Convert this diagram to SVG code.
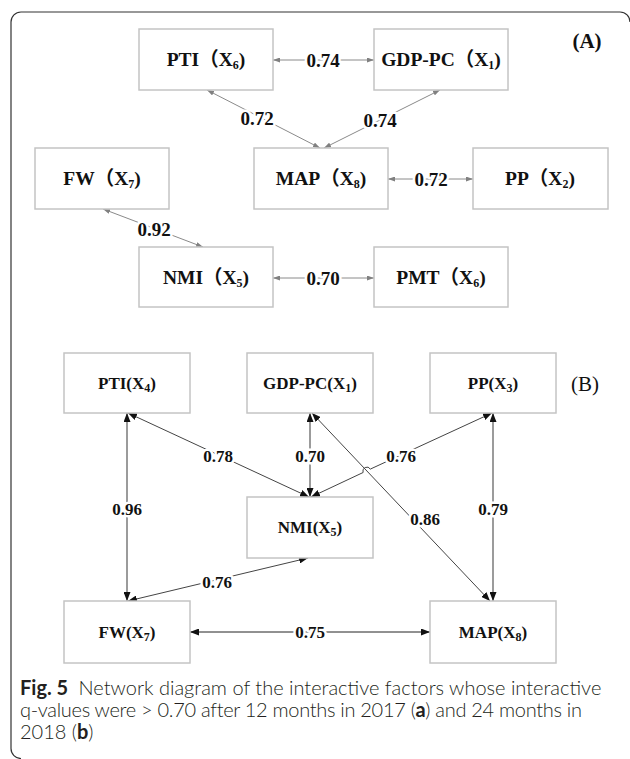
<svg xmlns="http://www.w3.org/2000/svg" width="630" height="759" viewBox="0 0 630 759">
<style>
.box{fill:#fff;stroke:#c4c4c4;stroke-width:1.5}
.na{font-family:"Liberation Serif","Noto Sans CJK SC",serif;font-weight:bold;font-size:19.5px;fill:#111;text-anchor:middle}
.nb{font-family:"Liberation Serif","Noto Sans CJK SC",serif;font-weight:bold;font-size:17px;fill:#111;text-anchor:middle}
.sub{font-size:12px}
.la{font-family:"Liberation Serif",serif;font-weight:bold;font-size:19px;fill:#111;text-anchor:middle;stroke:#fff;stroke-width:5;paint-order:stroke;stroke-linejoin:round}
.lb{font-family:"Liberation Serif",serif;font-weight:bold;font-size:17px;fill:#111;text-anchor:middle;stroke:#fff;stroke-width:5;paint-order:stroke;stroke-linejoin:round}
.ea{fill:none;stroke:#8a8a8a;stroke-width:1;marker-start:url(#ma);marker-end:url(#ma)}
.ev{fill:none;stroke:#8a8a8a;stroke-width:1.7;marker-start:url(#mb);marker-end:url(#mb)}
.ed{fill:none;stroke:#444;stroke-width:1;marker-start:url(#mb);marker-end:url(#mb)}
.cap{font-family:Lato,"Open Sans",sans-serif;font-weight:300;font-size:20px;fill:#231f20}
.b{font-weight:bold}
</style>
<defs>
<marker id="ma" viewBox="0 0 7 5" refX="7" refY="2.5" markerWidth="7" markerHeight="5" markerUnits="userSpaceOnUse" orient="auto-start-reverse"><path d="M0,0 L7,2.5 L0,5 z" fill="#808080"/></marker>
<marker id="mb" viewBox="0 0 9 7" refX="9" refY="3.5" markerWidth="9" markerHeight="7" markerUnits="userSpaceOnUse" orient="auto-start-reverse"><path d="M0,0 L9,3.5 L0,7 z" fill="#111"/></marker>
</defs>
<path d="M21,758.5 A10,10 0 0 1 11,748.5 V22 A10,10 0 0 1 21,12 H620 A10,10 0 0 1 630,22" fill="none" stroke="#333" stroke-width="1.2"/>
<text x="587" y="48" font-family="Liberation Serif,serif" font-weight="bold" font-size="21" text-anchor="middle" fill="#111">(A)</text>
<text x="585" y="391" font-family="Liberation Serif,serif" font-size="21" text-anchor="middle" fill="#111">(B)</text>
<g id="connectors">
<line class="ea" x1="273" y1="60" x2="374" y2="60"/>
<line class="ea" x1="207" y1="90" x2="320" y2="148"/>
<line class="ea" x1="440" y1="90" x2="324" y2="148"/>
<line class="ea" x1="388" y1="179" x2="473" y2="179"/>
<line class="ea" x1="103" y1="209" x2="203" y2="247"/>
<line class="ea" x1="273" y1="278" x2="374" y2="278"/>
<line class="ev" x1="127" y1="413" x2="127" y2="601"/>
<line class="ed" x1="128" y1="413" x2="309" y2="497"/>
<line class="ev" x1="310" y1="413" x2="310" y2="497"/>
<path class="ed" d="M492,413 L370.3,469.1 A4,4 0 0 0 363.1,472.5 L311,497"/>
<line class="ed" x1="312" y1="413" x2="490" y2="601"/>
<line class="ev" x1="493" y1="413" x2="493" y2="601"/>
<line class="ed" x1="308" y1="558" x2="128" y2="601"/>
<line class="ed" x1="190" y1="632" x2="430" y2="632" style="stroke:#222"/>
<text class="la" x="323" y="66.5">0.74</text>
<text class="la" x="257" y="124.5">0.72</text>
<text class="la" x="380" y="126.5">0.74</text>
<text class="la" x="431" y="185.5">0.72</text>
<text class="la" x="154" y="235.5">0.92</text>
<text class="la" x="323" y="284.5">0.70</text>
<text class="lb" x="127" y="515">0.96</text>
<text class="lb" x="218" y="462">0.78</text>
<text class="lb" x="310" y="462">0.70</text>
<text class="lb" x="401" y="462">0.76</text>
<text class="lb" x="425" y="525">0.86</text>
<text class="lb" x="493" y="515">0.79</text>
<text class="lb" x="217" y="588">0.76</text>
<text class="lb" x="310" y="638">0.75</text>
</g>
<g id="a-pti"><rect class="box" x="139" y="29" width="134" height="61"/><text class="na" x="206" y="66">PTI（X<tspan class="sub" dy="3">6</tspan><tspan dy="-3">)</tspan></text></g>
<g id="a-gdp"><rect class="box" x="374" y="29" width="134" height="61"/><text class="na" x="441" y="66">GDP-PC（X<tspan class="sub" dy="3">1</tspan><tspan dy="-3">)</tspan></text></g>
<g id="a-fw"><rect class="box" x="35" y="148" width="134" height="61"/><text class="na" x="102" y="185">FW（X<tspan class="sub" dy="3">7</tspan><tspan dy="-3">)</tspan></text></g>
<g id="a-map"><rect class="box" x="254" y="148" width="134" height="61"/><text class="na" x="321" y="185">MAP（X<tspan class="sub" dy="3">8</tspan><tspan dy="-3">)</tspan></text></g>
<g id="a-pp"><rect class="box" x="473" y="148" width="135" height="61"/><text class="na" x="540" y="185">PP（X<tspan class="sub" dy="3">2</tspan><tspan dy="-3">)</tspan></text></g>
<g id="a-nmi"><rect class="box" x="139" y="247" width="134" height="60"/><text class="na" x="206" y="284">NMI（X<tspan class="sub" dy="3">5</tspan><tspan dy="-3">)</tspan></text></g>
<g id="a-pmt"><rect class="box" x="374" y="247" width="134" height="60"/><text class="na" x="441" y="284">PMT（X<tspan class="sub" dy="3">6</tspan><tspan dy="-3">)</tspan></text></g>
<g id="b-pti"><rect class="box" x="64" y="353" width="126" height="60"/><text class="nb" x="127" y="389">PTI(X<tspan class="sub" dy="2.5">4</tspan><tspan dy="-2.5">)</tspan></text></g>
<g id="b-gdp"><rect class="box" x="247" y="353" width="126" height="60"/><text class="nb" x="310" y="389">GDP-PC(X<tspan class="sub" dy="2.5">1</tspan><tspan dy="-2.5">)</tspan></text></g>
<g id="b-pp"><rect class="box" x="430" y="353" width="126" height="60"/><text class="nb" x="493" y="389">PP(X<tspan class="sub" dy="2.5">3</tspan><tspan dy="-2.5">)</tspan></text></g>
<g id="b-nmi"><rect class="box" x="247" y="497" width="126" height="61"/><text class="nb" x="310" y="533">NMI(X<tspan class="sub" dy="2.5">5</tspan><tspan dy="-2.5">)</tspan></text></g>
<g id="b-fw"><rect class="box" x="64" y="601" width="126" height="62"/><text class="nb" x="127" y="638">FW(X<tspan class="sub" dy="2.5">7</tspan><tspan dy="-2.5">)</tspan></text></g>
<g id="b-map"><rect class="box" x="430" y="601" width="126" height="62"/><text class="nb" x="493" y="638">MAP(X<tspan class="sub" dy="2.5">8</tspan><tspan dy="-2.5">)</tspan></text></g>
<g id="caption">
<text class="cap" x="20" y="695"><tspan class="b">Fig. 5</tspan><tspan dx="5"> Network diagram of the interactive factors whose interactive</tspan></text>
<text class="cap" x="20" y="717" letter-spacing="-0.3">q-values were &gt; 0.70 after 12 months in 2017 (<tspan class="b">a</tspan>) and 24 months in</text>
<text class="cap" x="20" y="739">2018 (<tspan class="b">b</tspan>)</text>
</g>
</svg>
